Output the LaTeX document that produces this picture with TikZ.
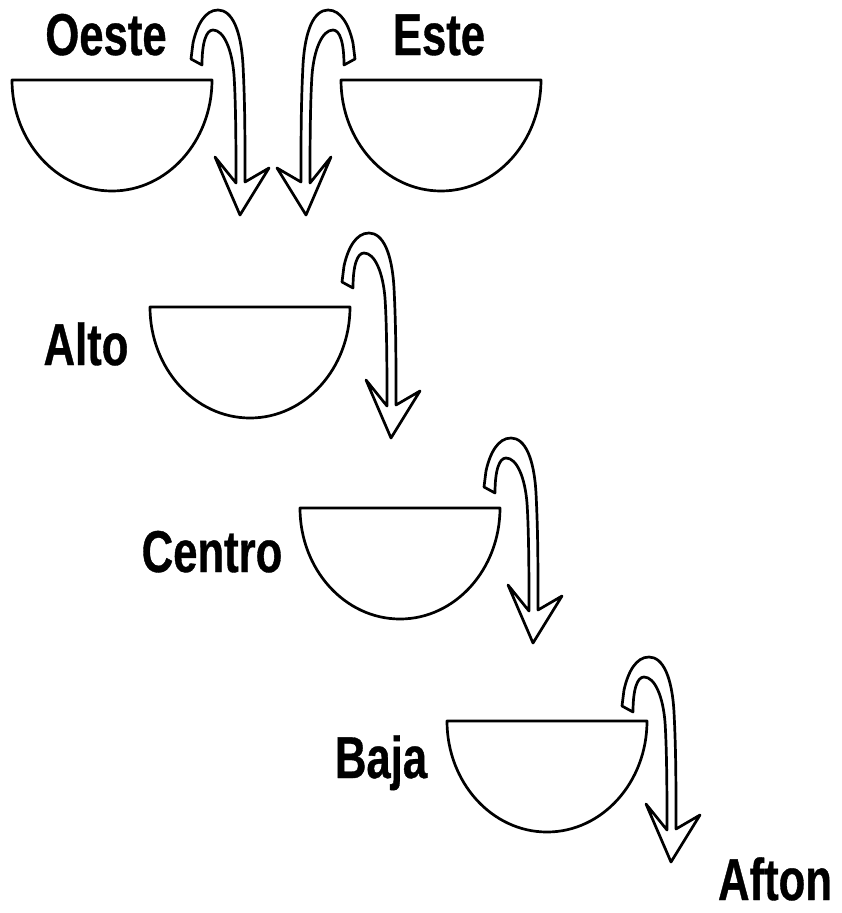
\documentclass[tikz,border=0pt]{standalone}
\usepackage{fontspec}
\setmainfont{Liberation Sans}
\newfontfamily\lblfont[FakeStretch=0.74, FakeBold=0.6]{Liberation Sans}
\begin{document}
\begin{tikzpicture}[x=1pt, y=1pt,
    lbl/.style={font=\lblfont\bfseries\fontsize{59}{70}\selectfont, anchor=base, inner sep=0pt},
    bowlline/.style={draw=black, line width=2.7pt, fill=white, line join=round},
    flow/.style={draw=black, line width=2.7pt, fill=white, line join=round},
    pics/bowl/.style={code={
        \draw[bowlline] (0,0) -- (200,0) arc[start angle=0, end angle=-180, x radius=100, y radius=111] -- cycle;}},
    pics/spill/.style={code={
        \draw[flow] (-4,32) -- (-25,58) -- (0,0) -- (29,47) -- (5,33)
            .. controls (5,80) and (5,110) .. (3,150)
            .. controls (1,185) and (-8,205) .. (-22,205)
            .. controls (-35,205) and (-43,190) .. (-47,172)
            -- (-49,156) -- (-38,150)
            .. controls (-38,172) and (-34,185) .. (-27,185)
            .. controls (-16,185) and (-8,165) .. (-6,140)
            .. controls (-4,110) and (-4,60) .. (-4,32) -- cycle;}}
]
\useasboundingbox (0,0) rectangle (842,-913);

% Basins (top left corner of each rim)
\coordinate (oeste) at (12,-80);
\coordinate (este) at (341,-80);
\coordinate (alto) at (150,-307);
\coordinate (centro) at (300,-508);
\coordinate (baja) at (447,-721);

\pic (oestebowl) at (oeste) {bowl};
\pic (estebowl) at (este) {bowl};
\pic (altobowl) at (alto) {bowl};
\pic (centrobowl) at (centro) {bowl};
\pic (bajabowl) at (baja) {bowl};

% Spill arrows (placed at their tips)
\pic (oesteflow) at ([shift={(228,-135)}]oeste) {spill};
\pic[xscale=-1] (esteflow) at ([shift={(-35,-135)}]este) {spill};
\pic (altoflow) at ([shift={(241,-131)}]alto) {spill};
\pic (centroflow) at ([shift={(233,-135)}]centro) {spill};
\pic (bajaflow) at ([shift={(224,-141)}]baja) {spill};

% Labels
\node[lbl] (oestelbl) at (106,-55) {Oeste};
\node[lbl] (estelbl) at (439,-55) {Este};
\node[lbl] (altolbl) at (86,-365) {Alto};
\node[lbl] (centrolbl) at (212,-572) {Centro};
\node[lbl] (bajalbl) at (381,-778) {Baja};
\node[lbl] (aftonlbl) at (775,-900) {Afton};

\end{tikzpicture}
\end{document}
